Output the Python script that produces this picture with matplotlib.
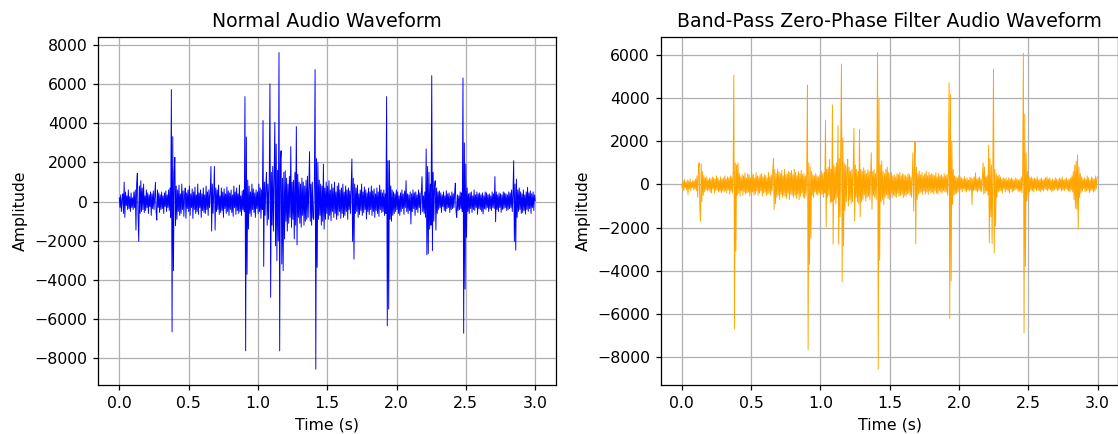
import numpy as np
import matplotlib
matplotlib.use("Agg")
import matplotlib.pyplot as plt

DURATION = 3.0  # seconds shown on both panels

# raw recording, one row = 0.1 s (20 samples)
normal_amp = [
    200, -300, 350, -500, 100, 400, -600, 1000, -800, 500, -200, 300, -400, 600, -350, 250, -500, 450, -300, 200,
    -400, 500, -300, 600, -1450, 900, 1450, -700, -2030, 800, -600, 1070, -500, 700, -400, 900, -550, 300, -450, 600,
    -300, 450, -600, 350, -250, 500, -700, 400, -350, 550, -400, 300, 990, -500, -940, 600, -300, 450, -550, 350,
    -400, 500, -350, 300, -600, 450, -250, 550, -500, 350, -300, 600, -450, 700, -800, 5720, -6640, 3320, -3520, 1500,
    2260, -1230, 800, -900, 600, -500, 850, -700, 400, -600, 900, -400, 550, -750, 300, 700, -850, 450, -350, 600,
    -500, 800, -700, 400, -300, 650, -850, 500, -400, 750, -600, 350, -500, 900, -650, 450, -300, 600, -800, 400,
    -450, 700, -550, 350, -600, 800, -400, 500, -700, 600, -300, 450, 1800, -1500, 900, -600, 400, 1800, -1450, 700,
    -500, 600, -400, 850, -650, 300, -550, 700, -450, 500, -800, 650, -350, 400, -600, 750, -500, 550, -700, 450,
    -400, 600, -550, 350, -750, 800, -300, 500, -650, 700, -450, 400, -600, 850, -500, 300, -700, 550, -400, 600,
    -500, 5360, -7610, 3300, -3700, 1100, -1400, 800, -600, 500, -750, 900, -400, 650, -550, 450, -800, 600, -350, 500,
    -600, 900, -500, 700, -850, 600, -400, 4140, -3300, 1000, -700, 800, 1500, -1200, 900, -900, 1200, 6010, -4880, 1500,
    -1200, 1800, -1500, 1400, 4050, -2250, 2940, -3010, 1600, -2000, 7610, -7610, 2000, 2600, -3180, 1200, -3520, 1500, -1900, 1580,
    -1000, 1200, -1500, 900, -1100, 1300, -800, 2810, -1310, 1000, -900, 1100, -1900, 1500, -1200, 3830, -2200, 1400, -800, 1000,
    -1100, 900, -1300, 1200, -700, 1000, -1200, 800, -1000, 1100, -900, 1300, -800, 700, 2550, -1000, 900, -1200, 1000, -800,
    -900, 1000, 6740, -8545, 2200, -3350, 2000, -900, 1100, -700, 900, -1200, 800, -1000, 1920, -1400, 700, -900, 1000, -600,
    800, -900, 1070, -700, 600, -970, 900, -500, 700, -800, 1000, -600, 500, -900, 800, -700, 950, -500, 600, -850,
    700, -600, 900, -800, 500, -700, 800, -500, 600, -900, 700, -400, 550, -600, 800, 2180, -2030, 1200, -2930, 900,
    -600, 700, -500, 850, -800, 400, -650, 600, -450, 900, -700, 500, -550, 750, -400, 600, -880, 450, -500, 700,
    -650, 500, -400, 800, -700, 550, -500, 650, -800, 400, -450, 700, -600, 500, -750, 850, -400, 600, -550, 450,
    -500, 600, -700, 400, -600, 5360, -6330, 2090, -5480, 2100, -900, 800, -1000, 600, -700, 500, -600, 400, -500, 600,
    -400, 500, -600, 300, -700, 450, -500, 600, -350, 400, -650, 550, -300, 1070, -500, 400, -600, 350, -450, 500,
    -1140, 400, -500, 600, -350, 450, -700, 500, -400, 350, -550, 600, -300, 450, -650, 400, 1280, -500, 300, -600,
    500, -800, 2690, -2710, 1800, -2650, 1500, -1400, 900, -1200, 6430, -2500, 1500, -1000, 800, 1070, -1450, 700, -600, 500,
    -400, 550, -300, 450, -550, 350, -250, 500, -450, 300, -500, 560, -350, 400, -300, 450, -550, 300, -400, 500,
    -350, 400, -300, 450, 950, -500, -800, 350, -450, 300, -400, 500, -350, 450, -500, 6310, -6710, 3000, -4460, 1920,
    -1820, 700, -500, 400, -600, 450, -350, 500, -550, 300, -400, 600, -450, 350, -300, 500, -650, 400, -350, 450,
    -400, 350, -500, 450, -630, 300, -350, 500, -400, 450, -300, 350, -500, 400, -350, 300, -450, 500, -300, 400,
    -350, 1280, -1020, 500, -400, 350, -500, 450, -300, 400, -550, 350, -400, 500, -350, 450, -300, 400, -450, 350,
    -400, 500, -350, 450, -300, 600, -500, 400, 2090, -2030, 900, -2470, 1150, -800, 600, -500, 700, -400, 500, -600,
    400, -550, 600, -450, 350, -630, 500, -400, 730, -500, 450, -350, 550, -600, 400, -300, 500, -450, 350, 50,
]

# same recording after the band-pass (filtfilt) stage
filtered_amp = [
    0, -200, 150, -300, 230, -150, 100, -250, 200, -460, 150, -200, 250, -300, 100, -150, 200, -250, 150, -200,
    250, -300, 400, -600, 700, 1000, -1100, -1700, 950, -800, 600, -500, 400, -350, 300, -250, 350, -300, 200, -250,
    300, -350, 250, -400, 350, -200, 300, -400, 250, -300, 400, -250, 300, -350, 200, -300, 350, -400, 250, -300,
    300, -350, 400, -300, 250, -400, 350, -250, 300, -450, 400, -300, 350, -400, 500, 5055, -6680, 1000, -3090, 900,
    -500, 1000, -400, 500, -540, 350, -300, 450, -500, 400, -350, 540, -450, 300, -400, 500, -350, 450, -540, 300,
    -400, 500, -350, 450, -500, 300, -450, 540, -300, 400, -500, 350, -400, 450, -300, 500, -540, 350, -400, 450,
    -350, 400, -500, 300, -450, 550, -400, 350, -500, 450, -300, 600, 1200, -1160, 700, -900, 500, -600, 700, -500,
    600, -700, 500, -450, 650, -600, 400, -500, 700, -550, 450, -650, 500, -400, 600, -700, 550, -450, 650, -500,
    450, -600, 700, -500, 550, -650, 400, -450, 600, -700, 500, -550, 650, -400, 450, -600, 500, -650, 400, -500,
    550, 4600, -7650, 1000, -3700, 800, -2470, 600, -500, 450, -600, 400, -350, 500, -450, 400, -500, 350, -400, 450,
    -500, 600, -450, 500, -600, 550, -400, 2980, -1970, 700, -600, 800, -500, 1160, -850, 700, -800, 3680, -2770, 900,
    -700, 800, -900, 1000, -600, 2720, -2770, 1200, -1500, 1800, 5580, -4520, 2160, -2850, 1000, -1200, 900, -800, 700, 1160,
    -1000, 800, -700, 600, -900, 700, -800, 1000, 2600, -1700, 900, -600, 700, -800, 600, -900, 2550, -1500, 700, -800,
    600, -700, 770, -500, 650, -770, 500, -600, 700, -550, 600, -700, 500, 1470, -1160, 600, -500, 700, -600, 500,
    -700, 800, 6110, -8560, 3990, -3510, 900, -800, 1080, -700, 600, -930, 500, -600, 700, -500, 800, -650, 550, -700,
    500, -450, 540, -620, 400, -500, 450, -550, 350, -600, 500, -400, 450, -550, 540, -500, 400, -450, 500, -620,
    450, -500, 400, -550, 350, -450, 500, -400, 450, -500, 350, -600, 400, 1470, -1240, 600, 1980, -2750, 800, -700,
    500, -450, 620, -400, 450, -350, 550, -460, 400, -300, 500, -450, 620, -350, 400, -460, 550, -300, 450, -400,
    500, -350, 450, -460, 400, -300, 550, -400, 350, -450, 500, -300, 400, -350, 450, -400, 350, -300, 500, -350,
    400, -350, 450, -500, 600, 4710, -6220, 4170, -4480, 2000, -930, 700, -500, 400, -450, 350, -400, 300, -350, 400,
    -300, 350, -250, 300, -350, 250, -200, 350, -300, 250, -350, 300, -250, 200, -300, 350, -250, 300, -930, 250,
    -300, 350, -250, 540, -300, 250, -350, 300, -250, 350, -300, 250, -350, 300, 1000, -460, 800, -400, 350, -300,
    400, -500, 1820, -2700, 1200, -1500, 900, -2740, 600, 5340, -3170, 700, -1930, 500, -600, 400, -350, 450, -300, 350,
    -300, 250, -390, 310, -200, 250, -350, 300, -250, 200, -300, 310, -390, 250, -200, 300, -350, 250, -300, 200,
    -250, 300, -200, 250, -300, 200, -350, 250, -300, 350, -400, 500, 6080, -6870, 3250, -3790, 1470, -770, 600, -500,
    400, -350, 300, -250, 350, -300, 250, -350, 300, -200, 250, -300, 350, -250, 200, -300, 250, -350, 300, -250,
    200, -300, 250, -200, 300, -250, 350, -300, 250, -200, 300, -250, 200, -350, 250, -300, 200, -250, 300, -200,
    250, -300, 200, -250, 300, -200, 250, -300, 350, -250, 200, -300, 250, -200, 300, -250, 200, -300, 250, -350,
    300, -250, 400, -350, 600, -700, 900, -1100, 1080, -1160, 1360, -2070, 800, -600, 500, -400, 350, -300, 250, -200,
    300, -350, 250, -300, 390, -250, 300, -390, 200, -300, 350, -250, 300, -350, 250, -300, 390, -200, 300, 350,
]

t_normal = np.linspace(0, DURATION, len(normal_amp))
t_filtered = np.linspace(0, DURATION, len(filtered_amp))

DPI = 113
fig = plt.figure(figsize=(1118 / DPI, 434 / DPI), dpi=DPI)
ax1 = fig.add_axes([0.0881, 0.1129, 0.4092, 0.8025])
ax2 = fig.add_axes([0.5912, 0.1129, 0.4092, 0.8025])

ax1.plot(t_normal, normal_amp, color='blue', linewidth=0.6)
ax1.set_title("Normal Audio Waveform")
ax1.set_xlabel("Time (s)")
ax1.set_ylabel("Amplitude")
ax1.grid(True)

ax2.plot(t_filtered, filtered_amp, color='orange', linewidth=0.6)
ax2.set_title("Band-Pass Zero-Phase Filter Audio Waveform")
ax2.set_xlabel("Time (s)")
ax2.set_ylabel("Amplitude")
ax2.grid(True)

fig.savefig("out.png", dpi=DPI)
